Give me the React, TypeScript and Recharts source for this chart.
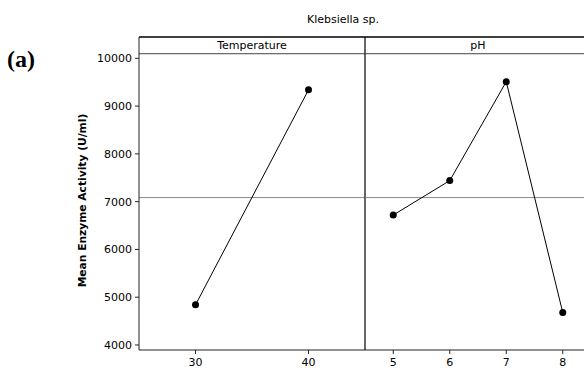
import {
	LineChart,
	Line,
	XAxis,
	YAxis,
	ReferenceLine,
	ReferenceArea,
} from "recharts";

const temperatures = [30, 40];
const temperatureMeans = [4840, 9340];
const phLevels = [5, 6, 7, 8];
const phMeans = [6720, 7440, 9510, 4680];
const yTicks = [4000, 5000, 6000, 7000, 8000, 9000, 10000];
const grandMean = 7085;
const yMin = 3895;
const yMax = 10446;
const headerEdge = 10096;

const tempData = temperatures.map((x, i) => ({ x, y: temperatureMeans[i] }));
const phData = phLevels.map((x, i) => ({ x, y: phMeans[i] }));

const font = "DejaVu Sans";
const frame = "#222";
const tickStyle = { fontSize: 11, fill: "#000", fontFamily: font };
const dotStyle = { r: 3.5, fill: "#000", stroke: "#000", strokeWidth: 0 };

const YLabel = (props: any) => {
	const { viewBox } = props;
	const y = viewBox.y + viewBox.height / 2 + 7;
	return (
		<text
			x={82}
			y={y}
			transform={`rotate(-90, 82, ${y})`}
			textAnchor="middle"
			dominantBaseline="central"
			fontFamily={font}
			fontWeight="bold"
			fontSize={10.7}
			fill="#000">
			Mean Enzyme Activity (U/ml)
		</text>
	);
};

const Panel = ({ data, domain, ticks, title, withAxis }: any) => (
	<>
		<XAxis
			dataKey="x"
			type="number"
			domain={domain}
			ticks={ticks}
			height={18}
			tickSize={4}
			tickMargin={4}
			tick={tickStyle}
			stroke={frame}
			allowDataOverflow
		/>
		{withAxis ? (
			<YAxis
				type="number"
				domain={[yMin, yMax]}
				ticks={yTicks}
				width={139}
				tickSize={4}
				tickMargin={3}
				tick={tickStyle}
				stroke={frame}
				allowDataOverflow
				label={<YLabel />}
			/>
		) : (
			<YAxis hide type="number" domain={[yMin, yMax]} allowDataOverflow />
		)}
		<ReferenceArea
			y1={headerEdge}
			y2={yMax}
			fill="none"
			stroke="none"
			label={{ value: title, position: "center", fontSize: 11, fill: "#000", fontFamily: font }}
		/>
		<ReferenceLine y={yMax} stroke="#000" strokeWidth={1.5} />
		<ReferenceLine y={headerEdge} stroke="#444" />
		<ReferenceLine y={grandMean} stroke="#888" />
		<Line
			data={data}
			type="linear"
			dataKey="y"
			stroke="#000"
			strokeWidth={1}
			dot={dotStyle}
			isAnimationActive={false}
		/>
	</>
);

export default function App() {
	return (
		<div
			style={{
				position: "absolute",
				left: 0,
				top: 0,
				width: 584,
				height: 368,
				overflow: "hidden",
				background: "#fff",
				fontFamily: font,
			}}>
			<div
				style={{
					position: "absolute",
					left: 7,
					top: 45,
					fontFamily: "Liberation Serif",
					fontWeight: "bold",
					fontSize: 24,
					lineHeight: "28px",
				}}>
				(a)
			</div>
			<div
				style={{
					position: "absolute",
					left: 243,
					top: 13,
					width: 200,
					textAlign: "center",
					fontSize: 11,
					lineHeight: "13px",
				}}>
				Klebsiella sp.
			</div>
			<div style={{ position: "absolute", left: 0, top: 0 }}>
				<LineChart
					width={367}
					height={368}
					data={tempData}
					margin={{ top: 37, right: 2, left: 0, bottom: 0 }}>
					{Panel({
						data: tempData,
						domain: [25, 45],
						ticks: temperatures,
						title: "Temperature",
						withAxis: true,
					})}
					<ReferenceLine x={45} stroke="#000" strokeWidth={1.2} />
				</LineChart>
			</div>
			<div style={{ position: "absolute", left: 355, top: 0 }}>
				<LineChart
					width={246}
					height={368}
					data={phData}
					margin={{ top: 37, right: 10, left: 10, bottom: 0 }}>
					{Panel({
						data: phData,
						domain: [4.5, 8.5],
						ticks: phLevels,
						title: "pH",
						withAxis: false,
					})}
				</LineChart>
			</div>
		</div>
	);
}
